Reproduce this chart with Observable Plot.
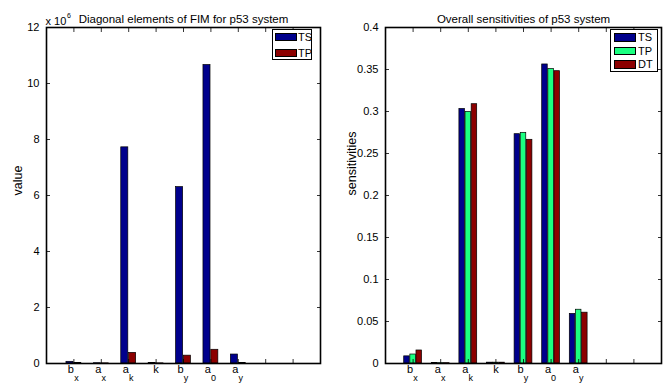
<!DOCTYPE html>
<html><head><meta charset="utf-8">
<script src="https://cdn.jsdelivr.net/npm/d3@7"></script>
<script src="https://cdn.jsdelivr.net/npm/@observablehq/plot@0.6"></script>
<style>
body{margin:0;background:#fff;}
#wrap{position:relative;width:672px;height:389px;overflow:hidden;font-family:"Liberation Sans",Arial,Helvetica,sans-serif;}
.panel{position:absolute;top:0;}
.legend{position:absolute;border:1px solid #000;background:#fff;box-sizing:border-box;}
.patch{position:absolute;border:1px solid #000;box-sizing:border-box;}
.ltext{position:absolute;font-size:11px;line-height:10px;color:#000;}
</style></head><body><div id="wrap"></div>
<script>
// ---- data ----
const categories = ["b_x","a_x","a_k","k","b_y","a_0","a_y"];
const labelBase = ["b","a","a","k","b","a","a"];
const labelSub  = ["x","x","k","","y","0","y"];
const xTicks = [1,2,3,4,5,6,7,8,9];

// Diagonal elements of FIM (units of 10^6)
const fimTS = [0.06, 0.01, 7.72, 0.02, 6.30, 10.66, 0.32];
const fimTP = [0.02, 0.005, 0.38, 0.005, 0.28, 0.49, 0.02];
const fimTicks = [0,2,4,6,8,10,12];

// Overall sensitivities
const sensTS = [0.0085, 0.0005, 0.303, 0.001, 0.273, 0.356, 0.059];
const sensTP = [0.0107, 0.0004, 0.2996, 0.001, 0.2746, 0.3505, 0.064];
const sensDT = [0.0155, 0.0004, 0.3087, 0.001, 0.2663, 0.348, 0.0605];
const sensTicks = [0,0.05,0.1,0.15,0.2,0.25,0.3,0.35,0.4];

const colBlue = "#00008c", colGreen = "#1aff80", colRed = "#8c0000";

function makePanel(o){
  const n = o.series.length;
  const groupWidth = Math.min(0.8, n/(n+1.5));
  const spacing = groupWidth/n;
  const bw = spacing*0.9;
  const rows = [];
  o.series.forEach((vals, j) => {
    vals.forEach((v, i) => {
      const c = i + 1 + (j - (n-1)/2)*spacing;
      rows.push({x1: c - bw/2, x2: c + bw/2, y: v, s: o.names[j]});
    });
  });
  const labels = categories.map((c,i)=>({i: i+1, base: labelBase[i], sub: labelSub[i]}));
  const marks = [
    Plot.rectY(rows, {x1:"x1", x2:"x2", y1:0, y2:"y", fill:"s", stroke:"black", strokeWidth:0.7}),
    Plot.axisY(o.yTicks, {anchor:"left", tickSize:-4, tickPadding:11, tickFormat:o.tickFormat, label:null, strokeWidth:0.8, fontSize:11}),
    Plot.axisY(o.yTicks, {anchor:"right", tickSize:-4, tickFormat:()=>"", label:null, strokeWidth:0.8}),
    Plot.axisX(xTicks, {anchor:"top", tickSize:-4, tickFormat:()=>"", label:null, strokeWidth:0.8}),
    Plot.axisX(xTicks, {anchor:"bottom", tickSize:-4, tickFormat:()=>"", label:null, strokeWidth:0.8}),
    Plot.text(labels.filter(d=>d.sub), {x:"i", frameAnchor:"bottom", text:"base", dy:9, dx:-3, fontSize:11}),
    Plot.text(labels.filter(d=>!d.sub), {x:"i", frameAnchor:"bottom", text:"base", dy:9, dx:0, fontSize:11}),
    Plot.text(labels.filter(d=>d.sub), {x:"i", frameAnchor:"bottom", text:"sub", dy:17.5, dx:2.5, fontSize:9}),
    Plot.frame({stroke:"black", strokeWidth:1.6}),
    Plot.text([o.title], {frameAnchor:"top", text:d=>d, dy:-13, fontSize:11.5}),
    Plot.text([o.yLabel], {frameAnchor:"left", text:d=>d, rotate:-90, dx:o.yLabelDx, fontSize:12.5})
  ];
  if (o.extra) marks.push(...o.extra);
  return Plot.plot({
    width:336, height:389,
    marginLeft:o.ml, marginRight:o.mr, marginTop:27, marginBottom:26,
    style:{fontFamily:'"Liberation Sans",Arial,Helvetica,sans-serif', fontSize:"11px", background:"white", overflow:"visible"},
    x:{domain:[0,10], axis:null},
    y:{domain:o.yDomain, axis:null},
    color:{domain:o.names, range:o.colors},
    marks
  });
}

const wrap = document.getElementById("wrap");

const left = makePanel({
  series:[fimTS, fimTP], names:["TS","TP"], colors:[colBlue, colRed],
  yDomain:[0,12], yTicks:fimTicks, tickFormat:d=>String(d),
  title:"Diagonal elements of FIM for p53 system", yLabel:"value", yLabelDx:-29,
  ml:46, mr:16,
  extra:[
    Plot.text(["x 10"], {frameAnchor:"top-left", text:d=>d, textAnchor:"start", dx:-1, dy:-10, fontSize:11}),
    Plot.text(["6"], {frameAnchor:"top-left", text:d=>d, textAnchor:"start", dx:20.5, dy:-14.5, fontSize:7})
  ]
});
left.classList.add("panel"); left.style.left = "0px";
wrap.appendChild(left);

const right = makePanel({
  series:[sensTS, sensTP, sensDT], names:["TS","TP","DT"], colors:[colBlue, colGreen, colRed],
  yDomain:[0,0.4], yTicks:sensTicks, tickFormat:d=>d===0?"0":String(+d.toFixed(2)),
  title:"Overall sensitivities of p53 system", yLabel:"sensitivities", yLabelDx:-34,
  ml:49, mr:11
});
right.classList.add("panel"); right.style.left = "336px";
wrap.appendChild(right);

function legend(x, y, w, h, names, colors, px, pw, ph, top0, step, tx){
  const box = document.createElement("div");
  box.className = "legend";
  Object.assign(box.style, {left:x+"px", top:y+"px", width:w+"px", height:h+"px"});
  names.forEach((nm,i)=>{
    const p = document.createElement("div");
    p.className = "patch";
    Object.assign(p.style, {left:px+"px", top:(top0+i*step)+"px", width:pw+"px", height:ph+"px", background:colors[i]});
    box.appendChild(p);
    const t = document.createElement("div");
    t.className = "ltext";
    t.textContent = nm;
    Object.assign(t.style, {left:tx+"px", top:(top0+i*step-1)+"px"});
    box.appendChild(t);
  });
  wrap.appendChild(box);
}
legend(272, 29, 40, 31, ["TS","TP"], [colBlue, colRed], 2, 22, 8, 3, 15.5, 25);
legend(610, 29, 48, 43, ["TS","TP","DT"], [colBlue, colGreen, colRed], 3, 22, 8.5, 3, 13.7, 27);
</script>
</body></html>
